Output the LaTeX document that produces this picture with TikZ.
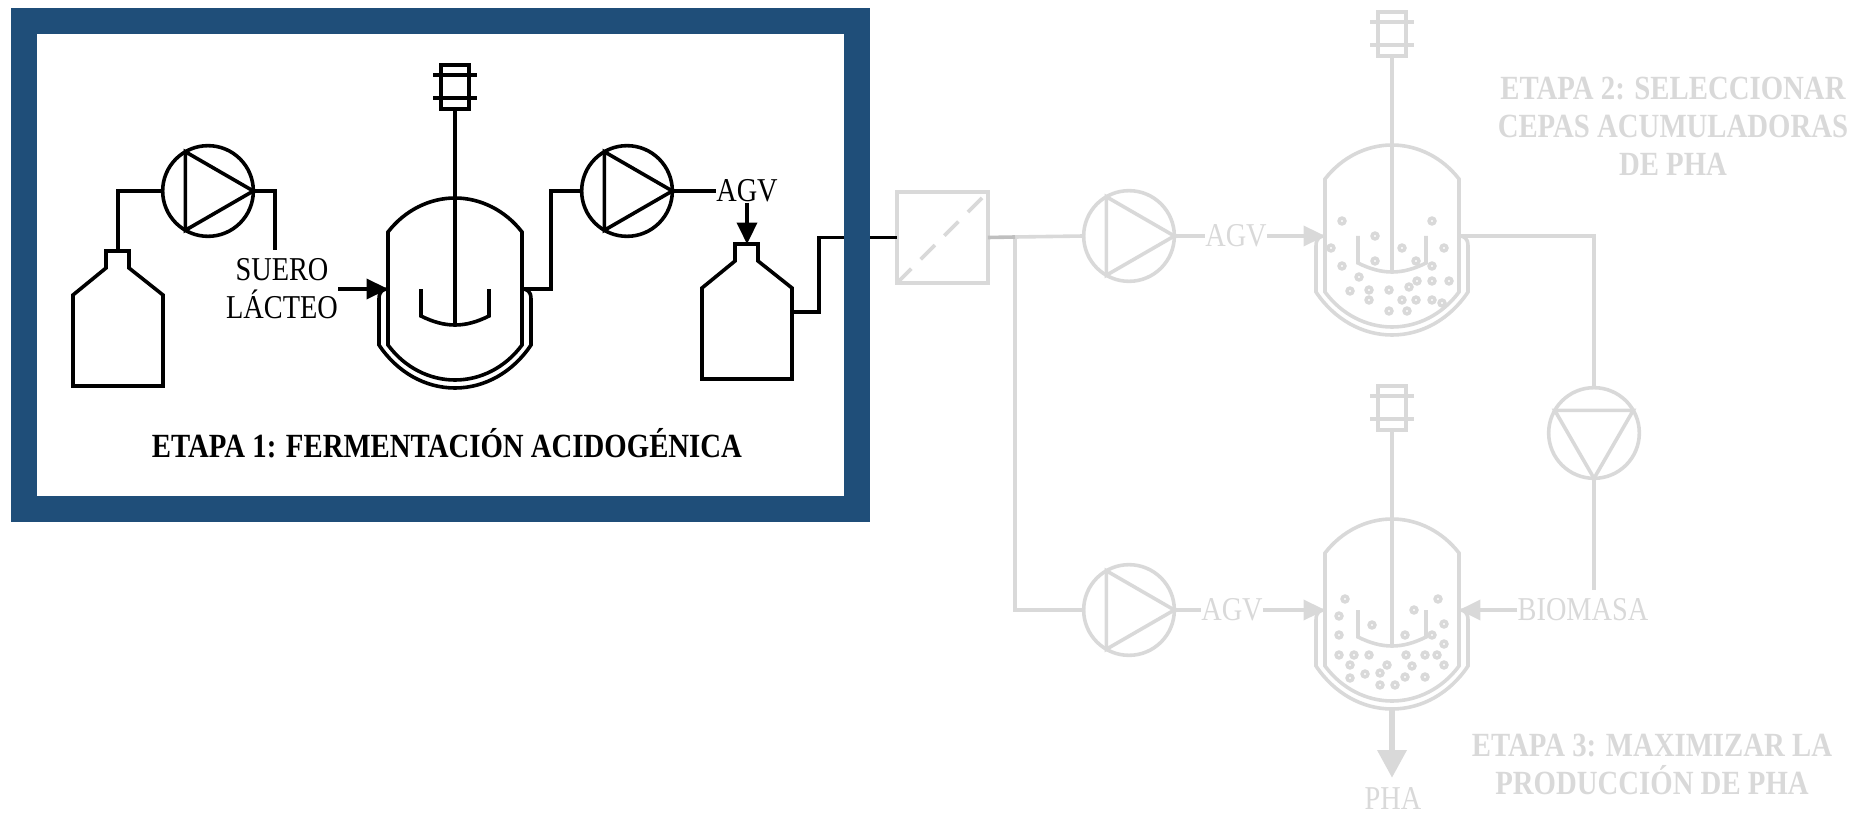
\documentclass[tikz,border=0pt]{standalone}
\usepackage{fontspec}
\setmainfont[FakeStretch=0.85]{Liberation Serif}
\usetikzlibrary{arrows.meta}
\definecolor{azul}{HTML}{1F4E79}
\definecolor{gris}{HTML}{D9D9D9}
\definecolor{grisb}{HTML}{BFBFBF}
\begin{document}
\begin{tikzpicture}[x=0.75pt, y=-0.75pt,
  font=\fontsize{25}{28.5}\selectfont,
  wire/.style={line width=2.7pt},
  arr/.style={wire, -{Triangle[length=16pt, width=15pt]}},
  lab/.style={inner sep=0pt, align=center},
  titulo/.style={lab, font=\fontsize{25.4}{28.5}\selectfont\bfseries},
  pumpc/.style={circle, draw, wire, minimum size=68pt, inner sep=0pt, outer sep=0pt},
  filt/.style={draw=gris, wire, minimum size=68pt, inner sep=0pt, outer sep=0pt},
  marco/.style={draw=azul, line width=19.8pt, minimum width=624.5pt, minimum height=366pt},
  reactor/.pic={
    \draw[wire] (-67,34) .. controls (-50,12) and (-25,0) .. (0,0)
      .. controls (25,0) and (50,12) .. (67,34) -- (67,147)
      .. controls (50,170) and (25,182) .. (0,182)
      .. controls (-25,182) and (-50,170) .. (-67,147) -- cycle;
    \draw[wire] (-67,91) .. controls (-72,91) and (-76,93) .. (-76,101) -- (-76,147)
      .. controls (-58,174) and (-30,190) .. (0,190)
      .. controls (30,190) and (58,174) .. (76,147) -- (76,101)
      .. controls (76,93) and (72,91) .. (67,91);
    \draw[wire] (-14,-133) rectangle (14,-89);
    \draw[wire] (-22,-123) -- (22,-123);
    \draw[wire] (-22,-100) -- (22,-100);
    \draw[wire] (0,-89) -- (0,127);
    \draw[wire] (-34,91) -- (-34,118) .. controls (-22,124) and (-11,127) .. (0,127)
      .. controls (11,127) and (22,124) .. (34,118) -- (34,91);
    \coordinate (-l) at (-67,91);
    \coordinate (-r) at (67,91);
    \coordinate (-b) at (0,190);
  },
  botella/.pic={
    \draw[wire] (-45,135) -- (-45,44) -- (-12,17) -- (-12,0) -- (11,0) -- (11,17)
      -- (45,44) -- (45,135) -- cycle;
    \coordinate (-top) at (0,0);
    \coordinate (-side) at (45,68);
  },
]
  \useasboundingbox (0,0) rectangle (1861,813);

  % etapa 1
  \pic (bot1) at (118,251) {botella};
  \pic (bot2) at (747,244) {botella};
  \pic (rea1) at (455,198) {reactor};
  \node[pumpc] (pump1) at (208,191) {};
  \node[pumpc] (pump2) at (627,191) {};
  \draw[wire] (pump1.120) -- (pump1.0) -- (pump1.240) -- cycle;
  \draw[wire] (pump2.120) -- (pump2.0) -- (pump2.240) -- cycle;
  \node[lab] (suero) at (282,289) {SUERO\\LÁCTEO};
  \node[lab] (agv1) at (747,191) {AGV};
  \coordinate (fin1) at (275,250);
  \draw[wire] (bot1-top) |- (pump1.west);
  \draw[wire] (pump1.east) -| (fin1);
  \draw[arr] (suero.east) -- (rea1-l);
  \draw[wire] (rea1-r) -- ++(29,0) |- (pump2.west);
  \draw[wire] (pump2.east) -- (agv1.west);
  \draw[arr] (agv1.south) -- (bot2-top);
  \node[titulo] (tit1) at (447,443) {ETAPA 1: FERMENTACIÓN ACIDOGÉNICA};

  % filtro
  \node[filt] (filtro) at (942.5,237.5) {};
  \draw[wire] (bot2-side) -- ++(27,0) |- (filtro.west);
  \draw[gris, wire, dash pattern=on 15pt off 10pt] (filtro.south west) -- (filtro.north east);
  \node[marco] (caja) at (440.5,265) {};

  % etapas 2 y 3
  \begin{scope}[gris]
    \pic (rea2) at (1392,145) {reactor};
    \pic (rea3) at (1392,519) {reactor};
    \node[pumpc] (pump3) at (1129,236) {};
    \node[pumpc] (pump4) at (1129,610) {};
    \node[pumpc] (pump5) at (1594,433) {};
    \draw[wire] (pump3.120) -- (pump3.0) -- (pump3.240) -- cycle;
    \draw[wire] (pump4.120) -- (pump4.0) -- (pump4.240) -- cycle;
    \draw[wire] (pump5.150) -- (pump5.30) -- (pump5.270) -- cycle;
    \node[lab] (agv2) at (1236,236) {AGV};
    \node[lab] (agv3) at (1232,610) {AGV};
    \node[lab] (biomasa) at (1583,610) {BIOMASA};
    \node[lab] (pha) at (1393,798) {PHA};
    \coordinate (div) at (1015,237);
    \coordinate (fin5) at (1594,590);
    \coordinate (punta) at (1392,778);
    \draw[wire] (div) -- (pump3.west);
    \draw[wire] (div) |- (pump4.west);
    \draw[grisb, wire] (filtro.east) -- (div);
    \draw[wire] (pump3.east) -- (agv2.west);
    \draw[wire] (pump4.east) -- (agv3.west);
    \draw[arr] (agv2.east) -- (rea2-l);
    \draw[arr] (agv3.east) -- (rea3-l);
    \draw[arr] (biomasa.west) -- (rea3-r);
    \draw[wire] (rea2-r) -| (pump5.north);
    \draw[wire] (pump5.south) -- (fin5);
    \draw[line width=5pt, -{Triangle[length=21pt, width=21pt]}] (rea3-b) -- (punta);
    \foreach \x/\y in {1342/221, 1432/221, 1375/236, 1331/248, 1402/248, 1444/248,
      1342/266, 1375/261, 1416/261, 1432/266, 1359/277, 1417/281, 1432/281, 1449/281,
      1350/291, 1369/290, 1389/290, 1409/287, 1369/300, 1402/300, 1416/300, 1432/300,
      1442/303, 1389/311, 1407/311,
      1345/599, 1438/599, 1414/610, 1339/616, 1444/624, 1372/625, 1339/635, 1405/635,
      1432/635, 1444/644, 1339/655, 1354/655, 1369/655, 1406/655, 1425/655, 1437/655,
      1350/665, 1387/665, 1412/666, 1444/665, 1380/673, 1365/674, 1350/678, 1405/677,
      1425/677, 1380/685, 1395/685} {
      \fill[gris] (\x,\y) circle[radius=3.6pt];
      \fill[white] (\x,\y) circle[radius=0.8pt];
    }
    \node[titulo] (tit2) at (1673,126) {ETAPA 2: SELECCIONAR\\CEPAS ACUMULADORAS\\DE PHA};
    \node[titulo] (tit3) at (1652,764) {ETAPA 3: MAXIMIZAR LA\\PRODUCCIÓN DE PHA};
  \end{scope}
\end{tikzpicture}
\end{document}
